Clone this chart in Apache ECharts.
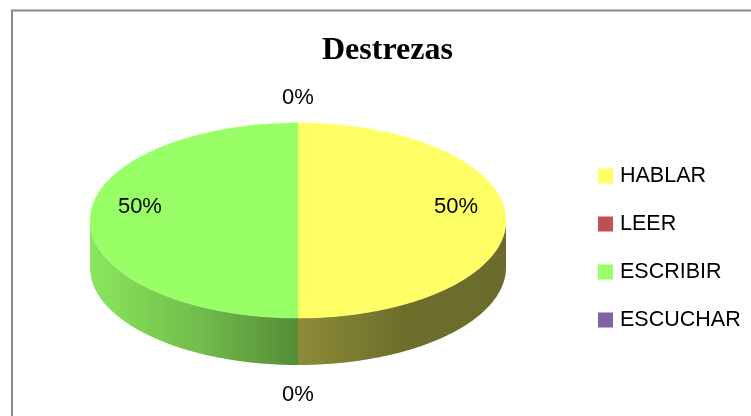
<!DOCTYPE html>
<html>
<head>
<meta charset="utf-8">
<script src="https://cdn.jsdelivr.net/npm/echarts@6/dist/echarts.min.js"></script>
<style>
  html, body { margin: 0; padding: 0; background: #fff; }
  #chart { width: 751px; height: 416px; }
</style>
</head>
<body>
<div id="chart"></div>
<script>
// datos del gráfico
const categories = ['HABLAR', 'LEER', 'ESCRIBIR', 'ESCUCHAR'];
const values = [50, 0, 50, 0];
const colors = ['#ffff66', '#c0504d', '#99ff66', '#8064a2'];
const titleText = 'Destrezas';

// geometría del pastel 3D (elipse + grosor)
const CX = 298, CY = 220.5, RX = 208, RY = 97.5, DEPTH = 47;
const TWO_PI = Math.PI * 2;

const total = values.reduce((a, b) => a + b, 0);

function px(a) { return CX + RX * Math.sin(a); }
function py(a) { return CY - RY * Math.cos(a); }

function shade(hex, f) {
  const n = parseInt(hex.slice(1), 16);
  const r = Math.round(((n >> 16) & 255) * f);
  const g = Math.round(((n >> 8) & 255) * f);
  const b = Math.round((n & 255) * f);
  return 'rgb(' + r + ',' + g + ',' + b + ')';
}

// sombreado lateral: claro a la izquierda, oscuro a la derecha
function sideGradient(hex) {
  const stops = [[0, 0.9], [0.25, 0.75], [0.5, 0.55], [0.75, 0.43], [1, 0.42]];
  return {
    type: 'linear', global: true,
    x: CX - RX, y: 0, x2: CX + RX, y2: 0,
    colorStops: stops.map(s => ({ offset: s[0], color: shade(hex, s[1]) }))
  };
}

function arcPoints(a0, a1, dy) {
  const pts = [];
  const steps = Math.max(2, Math.ceil((a1 - a0) / 0.02));
  for (let k = 0; k <= steps; k++) {
    const a = a0 + (a1 - a0) * k / steps;
    pts.push([px(a), py(a) + dy]);
  }
  return pts;
}

function sliceRenderer(i) {
  return function (params, api) {
    let start = 0;
    for (let j = 0; j < i; j++) start += values[j];
    const a0 = start / total * TWO_PI;
    const a1 = (start + values[i]) / total * TWO_PI;
    const children = [];

    if (a1 > a0) {
      // cara lateral (solo la parte frontal)
      const s0 = Math.max(a0, Math.PI / 2), s1 = Math.min(a1, Math.PI * 1.5);
      if (s1 > s0) {
        const top = arcPoints(s0, s1, 0);
        const bottom = arcPoints(s0, s1, DEPTH).reverse();
        children.push({
          type: 'polygon',
          shape: { points: top.concat(bottom) },
          style: { fill: sideGradient(colors[i]) },
          z2: 1
        });
      }
      // cara superior
      children.push({
        type: 'polygon',
        shape: { points: [[CX, CY]].concat(arcPoints(a0, a1, 0)) },
        style: { fill: colors[i], stroke: colors[i], lineWidth: 0.5 },
        z2: 2
      });
    }

    // etiqueta de porcentaje
    const mid = (a0 + a1) / 2;
    let lx, ly;
    if (values[i] > 0) {
      lx = CX + 0.76 * RX * Math.sin(mid);
      ly = CY - 0.75 * RY * Math.cos(mid) - 14;
    } else {
      const front = Math.cos(mid) < 0;
      const off = front ? 30 : 25;
      lx = CX + (RX + off) * Math.sin(mid);
      ly = CY - (RY + off) * Math.cos(mid) + (front ? DEPTH : 0);
    }
    children.push({
      type: 'text',
      style: {
        text: Math.round(values[i] / total * 100) + '%',
        x: lx, y: ly,
        fill: '#000',
        fontSize: 22,
        fontFamily: 'Liberation Sans, Arial, sans-serif',
        align: 'center',
        verticalAlign: 'middle'
      },
      z2: 100
    });

    return { type: 'group', children: children };
  };
}

const chart = echarts.init(document.getElementById('chart'));

const option = {
  animation: false,
  backgroundColor: '#fff',
  title: {
    text: titleText,
    left: 322,
    top: 35,
    padding: 0,
    textStyle: {
      fontFamily: 'Liberation Serif, Times New Roman, serif',
      fontWeight: 'bold',
      fontSize: 32,
      color: '#000'
    }
  },
  legend: {
    orient: 'vertical',
    left: 598,
    top: 165,
    padding: 0,
    itemWidth: 15,
    itemHeight: 15,
    itemGap: 26,
    icon: 'rect',
    selectedMode: false,
    data: categories,
    textStyle: {
      fontSize: 21.5,
      color: '#000',
      fontFamily: 'Liberation Sans, Arial, sans-serif',
      padding: [0, 0, 0, 2]
    }
  },
  graphic: [{
    type: 'rect',
    shape: { x: 12, y: 10.5, width: 800, height: 500 },
    style: { fill: 'none', stroke: '#8a8a8a', lineWidth: 2 },
    silent: true
  }],
  series: categories.map((name, i) => ({
    type: 'custom',
    name: name,
    coordinateSystem: 'none',
    itemStyle: { color: colors[i] },
    renderItem: sliceRenderer(i),
    data: [[values[i]]]
  }))
};

chart.setOption(option);
</script>
</body>
</html>
